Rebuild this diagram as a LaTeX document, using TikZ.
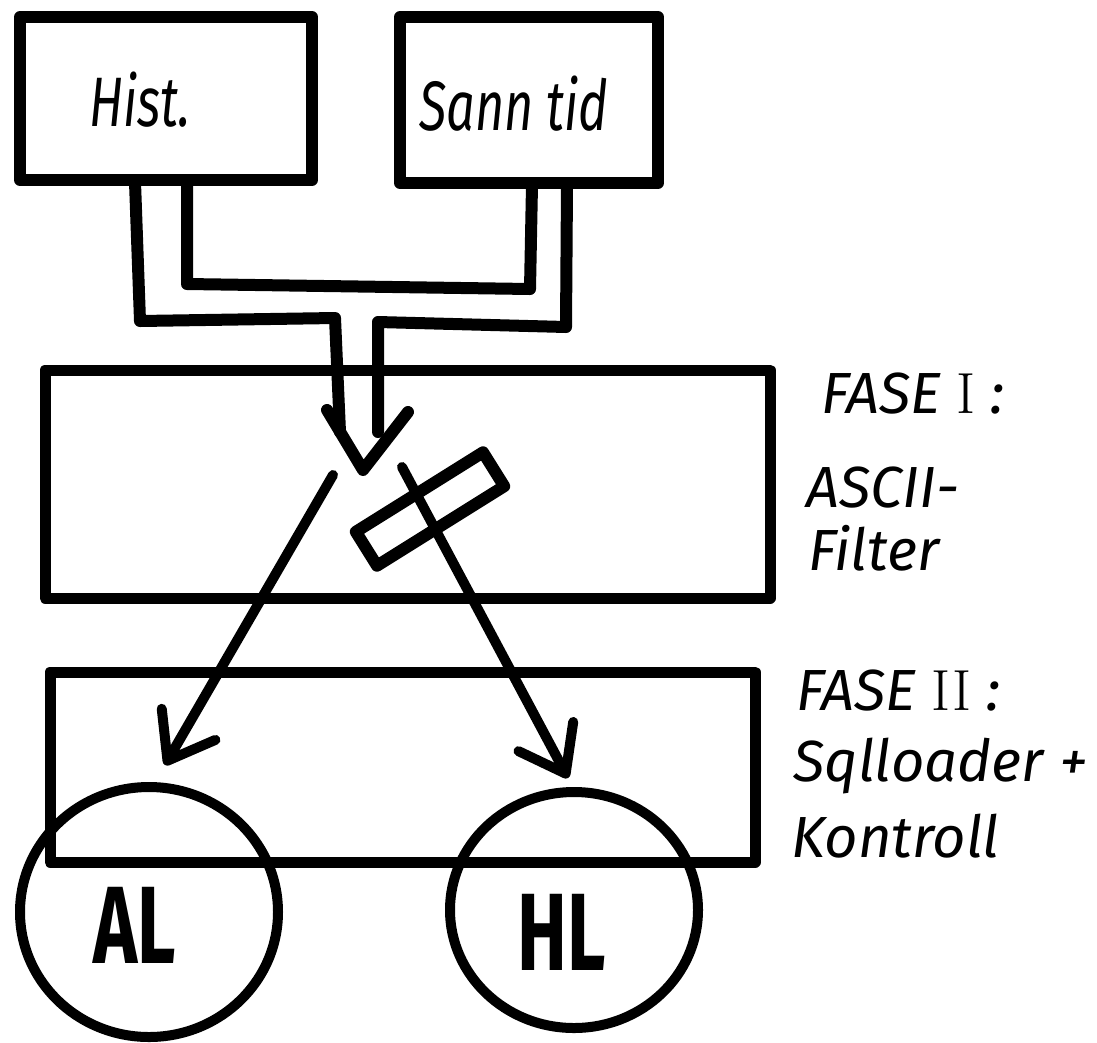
\documentclass[tikz,border=0pt]{standalone}
\usepackage{fontspec}
\usetikzlibrary{arrows.meta,shapes.geometric}
\newfontfamily\handfont{Fira Sans}
\newfontfamily\narrowhand[FakeStretch=0.72]{Fira Sans}
\newfontfamily\blockfont[FakeStretch=0.68]{Fira Sans}
\begin{document}
\begin{tikzpicture}[x=1pt,y=-1pt,line cap=round,line join=round,
  sourcebox/.style={draw,line width=12pt},
  sourcetext/.style={font=\narrowhand\itshape\fontsize{70}{80}\selectfont},
  phasebox/.style={draw,line width=11pt},
  pipe/.style={line width=12pt},
  flow/.style={line width=10pt,-{Straight Barb[length=42pt,width=62pt,round]}},
  store/.style={draw,ellipse,line width=10pt},
  storename/.style={font=\blockfont\bfseries\fontsize{110}{120}\selectfont},
  phaselabel/.style={anchor=base west,font=\handfont\itshape\fontsize{58}{66}\selectfont},
  barrier/.style={draw,line width=12pt,rotate=32,minimum width=150pt,minimum height=40pt}]
\useasboundingbox (0,0) rectangle (1097,1042);

% data sources
\node[sourcebox,minimum width=292pt,minimum height=163pt] (hist) at (166,98.5) {};
\node[sourcetext] (histtext) at (140,100) {Hist.};
\node[sourcebox,minimum width=258pt,minimum height=166pt] (sann) at (529,100) {};
\node[sourcetext] (sanntext) at (514,104) {Sann tid};

% the two phases
\node[phasebox,minimum width=725pt,minimum height=228pt] (fase1) at (407.5,484) {};
\node[phasebox,minimum width=705pt,minimum height=190pt] (fase2) at (402.5,767) {};

% target tables
\node[store,minimum width=258pt,minimum height=250pt] (al) at (149,912) {};
\node[storename] (altext) at (135,925) {AL};
\node[store,minimum width=248pt,minimum height=236pt] (hl) at (574,910) {};
\node[storename] (hltext) at (562,932) {HL};

% merging pipe from both sources
\draw[pipe] (135,182) -- (140,321) -- (335,318) -- (340,432);
\draw[pipe] (378,432) -- (378,322) -- (566,327) -- (567,185);
\draw[pipe] (187,182) -- (187,284) -- (530,289) -- (532,185);
\draw[pipe] (327,410) -- (363,470) -- (408,412);

% split into the two loads
\coordinate (alfrom) at (333,475);
\coordinate (alto) at (165,765);
\coordinate (hlfrom) at (402,467);
\coordinate (hlto) at (568,778);
\draw[flow] (alfrom) -- (alto);
\draw[flow] (hlfrom) -- (hlto);
\node[barrier] (block) at (430,509) {};

% phase descriptions
\node[phaselabel] (f1title) at (818,413) {FASE {\rmfamily\upshape I} :};
\node[phaselabel] (f1line1) at (803,507) {ASCII-};
\node[phaselabel] (f1line2) at (805,570) {Filter};
\node[phaselabel] (f2title) at (793,710) {FASE {\rmfamily\upshape II} :};
\node[phaselabel] (f2line1) at (790,781) {Sqlloader +};
\node[phaselabel] (f2line2) at (788,857) {Kontroll};
\end{tikzpicture}
\end{document}
